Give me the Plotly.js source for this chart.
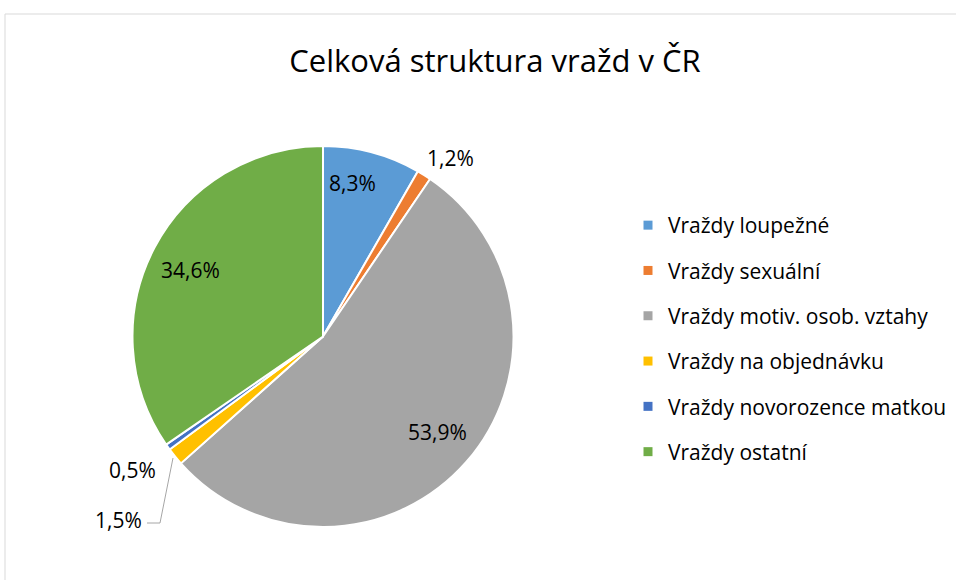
<!DOCTYPE html>
<html><head><meta charset="utf-8">
<script src="https://cdn.plot.ly/plotly-3.0.1.min.js"></script>
<style>html,body{margin:0;padding:0;background:#fff}#chart{width:956px;height:580px}</style>
</head><body><div id="chart"></div>
<script>
const categories = ["Vraždy loupežné","Vraždy sexuální","Vraždy motiv. osob. vztahy","Vraždy na objednávku","Vraždy novorozence matkou","Vraždy ostatní"];
const values = [8.3, 1.2, 53.9, 1.5, 0.5, 34.6];
const colors = ["#5B9BD5","#ED7D31","#A5A5A5","#FFC000","#4472C4","#70AD47"];
const titleText = "Celková struktura vražd v ČR";

const W = 956, H = 580;
const px = x => x / W, py = y => 1 - y / H;
const FONT = "Open Sans";

// label positions (pixels) for each slice's percentage, same order as values
const labelPos = [[352,183],[450,158],[437,432],[118,520],[132,470],[190,270]];

const fmt = v => v.toFixed(1).replace('.', ',') + '%';

const traces = [{
  type: 'pie',
  labels: categories,
  values: values,
  sort: false,
  direction: 'clockwise',
  rotation: 0,
  marker: {colors: colors, line: {color: '#ffffff', width: 2}},
  textinfo: 'none',
  hoverinfo: 'label+percent',
  showlegend: false,
  domain: {x: [px(132), px(514)], y: [py(527), py(146)]}
}];
categories.forEach((c, i) => {
  traces.push({
    type: 'scatter', mode: 'markers', x: [null], y: [null],
    name: c, legendgroup: 'g' + i,
    marker: {symbol: 'square', size: 9, color: colors[i]},
    xaxis: 'x', yaxis: 'y', hoverinfo: 'skip'
  });
});

const annotations = values.map((v, i) => ({
  text: fmt(v), xref: 'paper', yref: 'paper',
  x: px(labelPos[i][0]), y: py(labelPos[i][1]),
  xanchor: 'center', yanchor: 'middle', showarrow: false,
  font: {family: FONT, size: 21, color: '#000'}
}));

const layout = {
  width: W, height: H,
  margin: {l: 0, r: 0, t: 0, b: 0},
  paper_bgcolor: '#fff', plot_bgcolor: '#fff',
  title: {text: titleText, x: px(495), xanchor: 'center', y: py(61), yanchor: 'middle',
          font: {family: FONT, size: 31, color: '#000'}},
  xaxis: {visible: false, domain: [0.99, 1]},
  yaxis: {visible: false, domain: [0.99, 1]},
  showlegend: true,
  legend: {x: px(628), xanchor: 'left', y: py(205), yanchor: 'top',
           font: {family: FONT, size: 21, color: '#000'},
           tracegroupgap: 15, bgcolor: 'rgba(0,0,0,0)'},
  annotations: annotations,
  shapes: [
    {type: 'rect', xref: 'paper', yref: 'paper', x0: px(5), x1: 1.02, y0: -0.02, y1: py(14),
     line: {color: '#d9d9d9', width: 1}, fillcolor: 'rgba(0,0,0,0)'},
    {type: 'path', xref: 'paper', yref: 'paper',
     path: `M${px(147)},${py(523)} L${px(160)},${py(523)} L${px(173)},${py(458)}`,
     line: {color: '#a6a6a6', width: 1}}
  ]
};
Plotly.newPlot('chart', traces, layout, {displayModeBar: false, staticPlot: true});
</script></body></html>
